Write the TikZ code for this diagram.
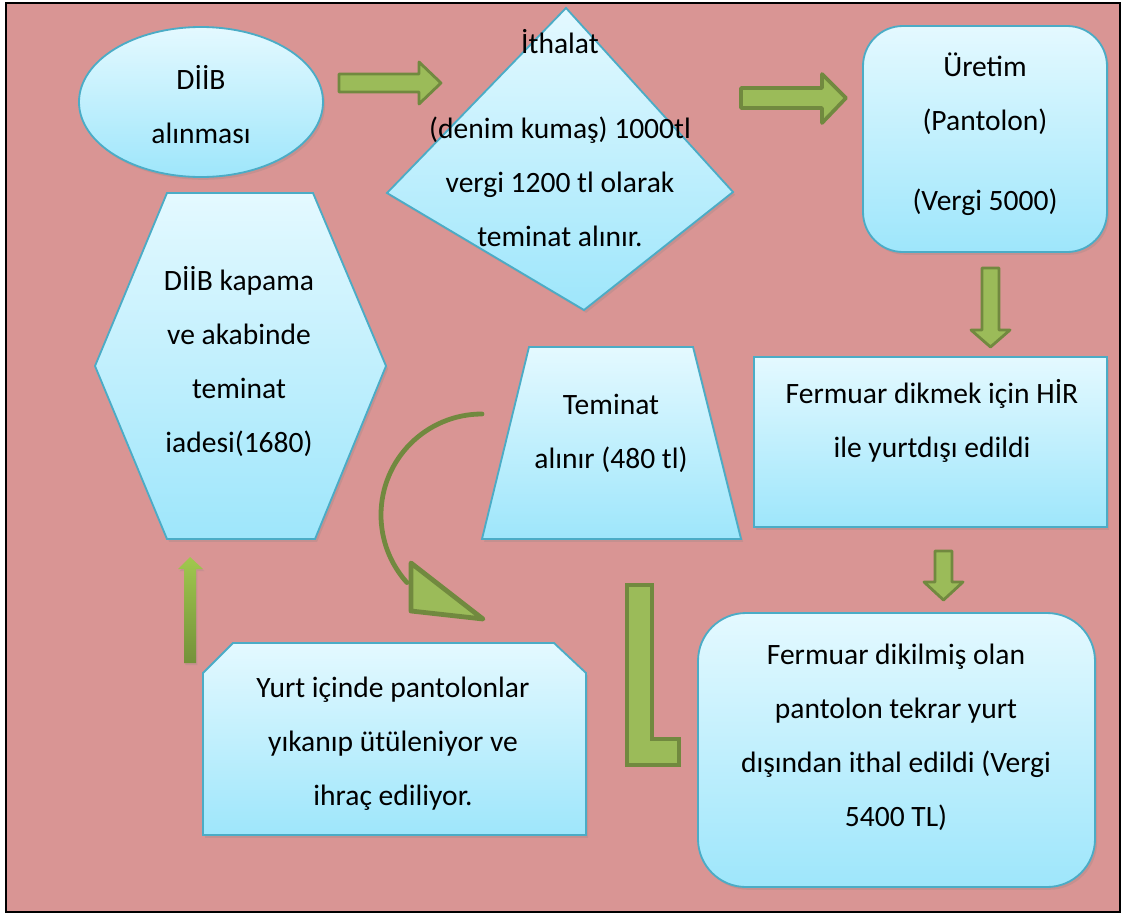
\documentclass[tikz,border=0pt]{standalone}
\usepackage{fontspec}
\setmainfont{Carlito}
\usetikzlibrary{shadows}
\definecolor{bgpink}{RGB}{217,149,148}
\definecolor{boxline}{RGB}{75,172,198}
\definecolor{boxtop}{RGB}{228,249,255}
\definecolor{boxbot}{RGB}{158,230,251}
\definecolor{arrfill}{RGB}{155,187,89}
\definecolor{arrline}{RGB}{113,137,63}
\definecolor{uptop}{RGB}{160,200,78}
\definecolor{upbot}{RGB}{116,145,58}
\tikzset{
  shp/.style={draw=boxline, line width=1.3pt, top color=boxtop, bottom color=boxbot,
    drop shadow={opacity=0.22, shadow xshift=1.5pt, shadow yshift=-2pt}},
  txt/.style={align=center, font=\fontsize{21}{38.4}\selectfont},
  blk/.style={draw=arrline, line width=2.6pt, fill=arrfill, line join=round},
  thinblk/.style={top color=uptop, bottom color=upbot,
    drop shadow={opacity=0.2, shadow xshift=1pt, shadow yshift=-1.5pt}},
}
\begin{document}
\begin{tikzpicture}[x=0.025cm, y=-0.025cm]
  \useasboundingbox (0,0) rectangle (1125,915);
  \draw[line width=1.4pt, fill=bgpink] (6,3) rectangle (1120,912);

  % shapes
  \draw[shp] (201,102) ellipse [x radius=122, y radius=75];
  \draw[shp] (566,8) -- (733,192) -- (584,310) -- (387,193) -- cycle;
  \draw[shp, rounded corners=1cm] (863,26) rectangle (1107,252);
  \draw[shp] (754,357) rectangle (1107,527);
  \draw[shp, rounded corners=1.2cm] (698,613) rectangle (1095,887);
  \draw[shp] (167,193) -- (313,193) -- (386,366) -- (315,539) -- (167,539) -- (95,366) -- cycle;
  \draw[shp] (529,347) -- (693,347) -- (741,539) -- (482,539) -- cycle;
  \draw[shp] (233,643) -- (554,643) -- (586,673) -- (586,835) -- (203,835) -- (203,673) -- cycle;

  % texts
  \node[txt] (diib) at (201,105) {DİİB\\alınması};
  \node[txt] (ithalat) at (560,138) {İthalat\\[0.78cm](denim kumaş) 1000tl\\vergi 1200 tl olarak\\teminat alınır.};
  \node[txt] (uretim) at (985,134) {Üretim\\(Pantolon)\\[0.65cm](Vergi 5000)};
  \node[txt] (hir) at (932,421) {Fermuar dikmek için HİR\\ile yurtdışı edildi};
  \node[txt] (ithal) at (896,737) {Fermuar dikilmiş olan\\pantolon tekrar yurt\\dışından ithal edildi (Vergi\\5400 TL)};
  \node[txt] (kapama) at (239,361) {DİİB kapama\\ve akabinde\\teminat\\iadesi(1680)};
  \node[txt] (teminat) at (611,433) {Teminat\\alınır (480 tl)};
  \node[txt] (yurt) at (393,744) {Yurt içinde pantolonlar\\yıkanıp ütüleniyor ve\\ihraç ediliyor.};

  % block arrows
  \draw[blk, line width=2pt] (339,74) -- (419,74) -- (419,62) -- (441,83) -- (419,104) -- (419,92) -- (339,92) -- cycle;
  \draw[blk] (741,88) -- (822,88) -- (822,74) -- (846,98) -- (822,123) -- (822,108) -- (741,108) -- cycle;
  \draw[blk, line width=2pt] (982,268) -- (999,268) -- (999,330) -- (1010,330) -- (990.5,347) -- (971,330) -- (982,330) -- cycle;
  \draw[blk, line width=2pt] (935,551) -- (952,551) -- (952,582) -- (963,582) -- (943.5,600) -- (924,582) -- (935,582) -- cycle;
  \path[thinblk] (184,663) -- (184,569) -- (178,569) -- (190,557) -- (203,569) -- (196,569) -- (196,663) -- cycle;
  \draw[blk, line width=3.2pt, line join=miter] (627,585) -- (652,585) -- (652,739) -- (679,739) -- (679,765) -- (627,765) -- cycle;
  \draw[arrline, line width=3.4pt, line cap=round] (482,414) arc[start angle=270, end angle=138, radius=101];
  \draw[blk, line width=3.4pt] (411,563) -- (411,611) -- (483,619) -- cycle;
\end{tikzpicture}
\end{document}
